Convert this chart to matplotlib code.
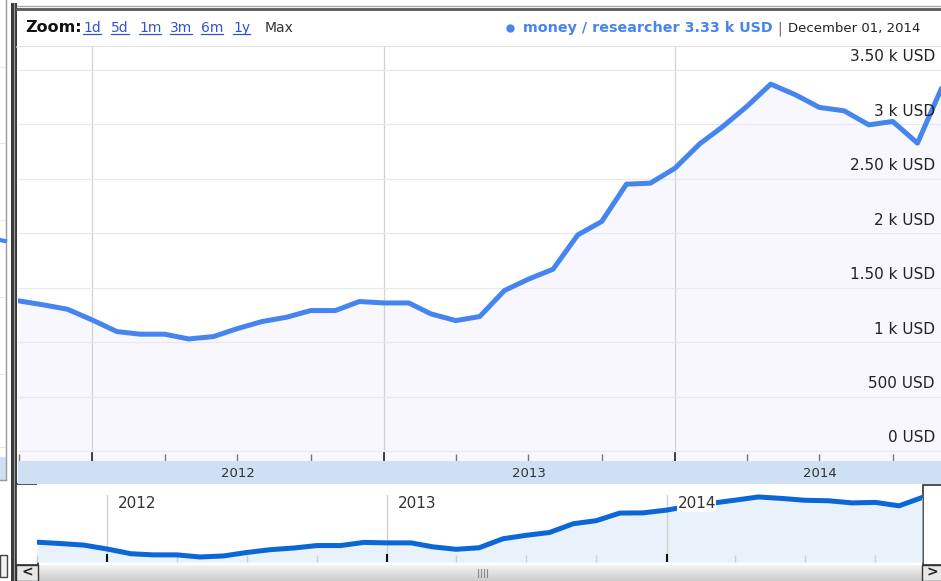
import matplotlib
matplotlib.use("Agg")
import matplotlib.pyplot as plt
import matplotlib.dates as mdates
from matplotlib.patches import Rectangle
import numpy as np
import pandas as pd

W, H = 941, 581

# monthly values, Oct 2011 .. Dec 2014
months = pd.date_range("2011-10-01", "2014-12-01", freq="MS")
money = [1379, 1342, 1302,
         1204, 1097, 1073, 1073, 1029, 1051, 1124, 1189, 1229, 1290, 1290, 1373,
         1360, 1360, 1259, 1198, 1235, 1474, 1578, 1670, 1985, 2108, 2451, 2460,
         2598, 2822, 2975, 3165, 3370, 3272, 3156, 3125, 2996, 3027, 2828, 3330]

ytick_vals = [0, 500, 1000, 1500, 2000, 2500, 3000, 3500]
ytick_labels = ["0 USD", "500 USD", "1 k USD", "1.50 k USD", "2 k USD",
                "2.50 k USD", "3 k USD", "3.50 k USD"]
years = [2012, 2013, 2014]
zoom_links = ["1d", "5d", "1m", "3m", "6m", "1y"]
series_name = "money / researcher"
last_label = "3.33 k USD"
last_date = "December 01, 2014"

LINE = "#4684ee"
NAV_LINE = "#0b66d6"


def px(x0, y0, x1, y1):
    # pixel box (top-left origin) -> figure fraction
    return [x0 / W, 1 - y1 / H, (x1 - x0) / W, (y1 - y0) / H]


fig = plt.figure(figsize=(W / 100, H / 100), dpi=100)
fig.patch.set_facecolor("white")

# background layer in pixel coords for the widget chrome
bg = fig.add_axes([0, 0, 1, 1])
bg.set_xlim(0, W)
bg.set_ylim(H, 0)
bg.axis("off")

# left neighbour panel (cut off)
bg.add_patch(Rectangle((0, 0), 6.5, 480, fc="white", ec="none"))
for gy in [67, 143, 220, 297, 374, 447]:
    bg.plot([0, 6], [gy, gy], color="#e6e6ee", lw=0.8)
bg.add_patch(Rectangle((0, 457), 6.5, 23, fc="#cfe0f4", ec="none"))
bg.plot([6.5, 6.5], [0, 480], color="#9a9a9a", lw=1)
bg.plot([0, 6.5], [480, 480], color="#9a9a9a", lw=1)
bg.plot([0, 5], [240, 241], color=LINE, lw=3)
bg.add_patch(Rectangle((0, 555), 7, 22, fc="#f2f2f2", ec="#444", lw=1))

# frame
bg.add_patch(Rectangle((11.5, 3), 5.5, 578, fc="#3a3a3a", ec="none"))
bg.plot([13.7, 13.7], [3, 581], color="#9a9a9a", lw=0.8)
bg.plot([17, W], [6, 6], color="#aaaaaa", lw=1)
bg.plot([17, W], [8.5, 8.5], color="#5a5a5a", lw=2)
bg.plot([17, W], [46.5, 46.5], color="#d9d9d9", lw=1.2)

# header
bg.text(25, 32, "Zoom:", fontsize=11.5, fontweight="bold", color="#111", va="baseline")
links = []
for lab, lx in zip(zoom_links, [83, 111, 139, 170, 201, 233]):
    links.append(bg.text(lx, 32, lab, fontsize=10, color="#3355cc", va="baseline"))
fig.canvas.draw()
for t in links:
    bb = t.get_window_extent()
    bg.plot([bb.x0, bb.x1], [34, 34], color="#3355cc", lw=0.9)
bg.text(265, 32, "Max", fontsize=10, color="#333", va="baseline")
bg.plot(510, 28, "o", ms=5, color=LINE)
bg.text(523, 32, f"{series_name} {last_label}", fontsize=10.3, fontweight="bold",
        color=LINE, va="baseline")
bg.text(777, 32, "|", fontsize=10, color="#666", va="baseline")
bg.text(788, 32, last_date, fontsize=9.5, color="#222", va="baseline")

# navigator handles + scrollbar
bg.add_patch(Rectangle((16, 484), 22, 81, fc="white", ec="#333", lw=1.2))
bg.add_patch(Rectangle((923, 485), 20, 80, fc="white", ec="#333", lw=1.2))
grad = np.linspace(0.95, 0.80, 16)[:, None]
bg.imshow(grad, extent=(17, W, 581, 565), aspect="auto", cmap="gray",
          vmin=0, vmax=1, origin="upper")
bg.set_xlim(0, W)
bg.set_ylim(H, 0)
bg.add_patch(Rectangle((16, 565), 22, 16, fc="#e8e8e8", ec="#333", lw=1))
bg.add_patch(Rectangle((922, 565), 20, 16, fc="#e8e8e8", ec="#333", lw=1))
bg.text(27, 572.5, "<", fontsize=10, fontweight="bold", color="#222", ha="center", va="center")
bg.text(932, 572.5, ">", fontsize=10, fontweight="bold", color="#222", ha="center", va="center")
for gx in [478, 481, 484, 487]:
    bg.plot([gx, gx], [569, 577], color="#8a8a8a", lw=0.8)

# main chart
ax = fig.add_axes(px(18, 47, 941, 461))
ax.set_facecolor("white")
ybot = -92
ax.fill_between(months, money, ybot, color="#f7f7fd", lw=0, zorder=1)
ax.plot(months, money, color=LINE, lw=3.6, solid_capstyle="round", zorder=3)
ax.set_xlim(pd.Timestamp("2011-09-30"), pd.Timestamp("2014-11-30 12:00"))
ax.set_ylim(ybot, 3711)
for s in ax.spines.values():
    s.set_visible(False)
ax.set_yticks(ytick_vals)
ax.yaxis.grid(True, color="#e8e8f0", lw=0.9)
ax.tick_params(axis="y", length=0, labelleft=False)
ax.xaxis.set_major_locator(mdates.YearLocator())
ax.xaxis.set_minor_locator(mdates.MonthLocator(bymonth=[4, 7, 10]))
ax.xaxis.grid(True, which="major", color="#cfd5cf", lw=0.9)
ax.tick_params(axis="x", which="major", direction="in", length=7, width=1.3,
               color="#333", labelbottom=False)
ax.tick_params(axis="x", which="minor", direction="in", length=5, width=1,
               color="#777")
ax.set_axisbelow("line")
for v, lab in zip(ytick_vals, ytick_labels):
    ax.annotate(lab, xy=(1, v), xycoords=("axes fraction", "data"),
                xytext=(-6, 13), textcoords="offset pixels",
                ha="right", va="center", fontsize=11, color="#222", zorder=4)

# year band under the chart
band = fig.add_axes(px(18, 461, 941, 484))
band.set_facecolor("#cfe0f4")
band.set_xlim(ax.get_xlim())
band.set_ylim(0, 1)
band.set_xticks([])
band.set_yticks([])
for s in band.spines.values():
    s.set_visible(False)
for yr in years:
    band.text(pd.Timestamp(f"{yr}-07-02"), 0.45, str(yr), ha="center", va="center",
              fontsize=9.5, color="#333")

# navigator
nav = fig.add_axes(px(37, 484, 922, 562))
nav.set_facecolor("white")
nav.set_yscale("log")
nbot = 932
nav.fill_between(months, money, nbot, color="#e9f1fb", lw=0, zorder=1)
nav.plot(months, money, color=NAV_LINE, lw=3.6, zorder=3)
nav.set_xlim(months[0], months[-1])
nav.set_ylim(nbot, 4353)
for s in nav.spines.values():
    s.set_visible(False)
nav.yaxis.set_major_locator(plt.NullLocator())
nav.yaxis.set_minor_locator(plt.NullLocator())
nav.xaxis.set_major_locator(mdates.YearLocator())
nav.xaxis.set_minor_locator(mdates.MonthLocator(bymonth=[4, 7, 10]))
nav.tick_params(axis="x", which="major", direction="in", length=6, width=1.5,
                color="#111", labelbottom=False)
nav.tick_params(axis="x", which="minor", direction="in", length=5, width=1,
                color="#c5d5c5")
nav.set_axisbelow("line")
for yr in years:
    d = pd.Timestamp(f"{yr}-01-01")
    nav.axvline(d, ymin=0, ymax=(562 - 495) / 78, color="#cdd5cd", lw=1, zorder=1.5)
    nav.annotate(str(yr), xy=(d, 1), xycoords=("data", "axes fraction"),
                 xytext=(11, -20), textcoords="offset pixels", ha="left", va="center",
                 fontsize=11, color="#333", zorder=4,
                 bbox=dict(fc="white", ec="none", pad=0.3))

fig.savefig("out.png", dpi=100)
plt.close(fig)
